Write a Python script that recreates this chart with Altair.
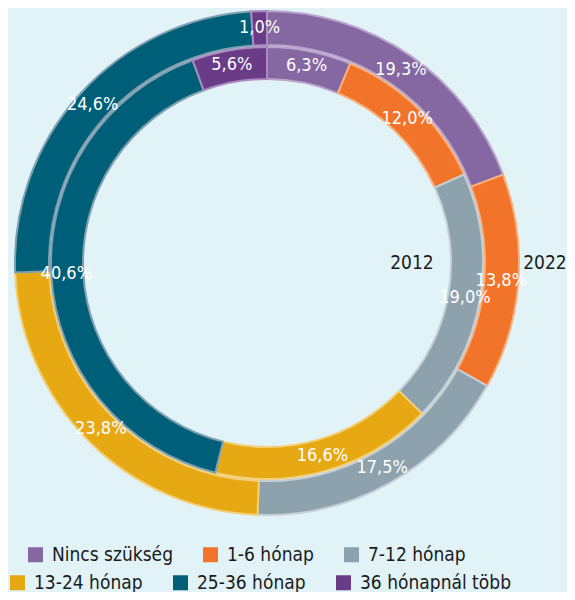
import altair as alt
import pandas as pd

categories = ["Nincs szükség", "1-6 hónap", "7-12 hónap", "13-24 hónap", "25-36 hónap", "36 hónapnál több"]
values_2022 = [19.3, 13.8, 17.5, 23.8, 24.6, 1.0]
values_2012 = [6.3, 12.0, 19.0, 16.6, 40.6, 5.6]
fill_colors = ["#8567a1", "#f1742a", "#8ea2ae", "#e6a913", "#005f78", "#6a3b87"]
stroke_colors = ["#b9a3cc", "#f8b07f", "#c4d0d6", "#f3cf78", "#7d9fb0", "#a98bbf"]
years = ["2012", "2022"]

FONT = "DejaVu Sans Condensed, DejaVu Sans, sans-serif"
CX, CY = 259, 255


def fmt(v):
    return f"{v:.1f}".replace(".", ",") + "%"


def frame(vals):
    return pd.DataFrame({
        "cat": categories,
        "idx": list(range(len(categories))),
        "val": vals,
        "label": [fmt(v) for v in vals],
    })


df22 = frame(values_2022)
df12 = frame(values_2012)

stroke_enc = alt.Stroke("cat:N", scale=alt.Scale(domain=categories, range=stroke_colors), legend=None)
theta_enc = alt.Theta("val:Q", stack="normalize")
order_enc = alt.Order("idx:Q", sort="ascending")

legend_common = dict(
    title=None, orient="none", direction="horizontal", columns=3,
    symbolType="square", symbolSize=225, symbolStrokeWidth=0,
    labelFont=FONT, labelFontSize=19, labelColor="#1a1a1a", labelOffset=7,
    columnPadding=28, padding=0,
)

outer = alt.Chart(df22).mark_arc(strokeWidth=2).encode(
    x=alt.value(CX), y=alt.value(CY),
    theta=theta_enc,
    radius=alt.value(252), radius2=alt.value(218),
    fill=alt.Fill("cat:N", scale=alt.Scale(domain=categories, range=fill_colors),
                  legend=alt.Legend(values=categories[:3], legendX=18, legendY=537, **legend_common)),
    stroke=stroke_enc,
    order=order_enc,
)

outer_text = alt.Chart(df22).mark_text(font=FONT, fontSize=18, color="white", align="center", baseline="middle").encode(
    x=alt.value(CX), y=alt.value(CY),
    theta=theta_enc,
    radius=alt.value(235),
    text="label:N",
    order=order_enc,
)

rev_cats = categories[::-1]
rev_cols = fill_colors[::-1]
inner = alt.Chart(df12).mark_arc(strokeWidth=2).encode(
    x=alt.value(CX), y=alt.value(CY),
    theta=theta_enc,
    radius=alt.value(216), radius2=alt.value(184),
    color=alt.Color("cat:N", scale=alt.Scale(domain=rev_cats, range=rev_cols),
                    legend=alt.Legend(values=categories[3:], legendX=0, legendY=565, **legend_common)),
    stroke=stroke_enc,
    order=order_enc,
)

inner_text = alt.Chart(df12).mark_text(font=FONT, fontSize=18, color="white", align="center", baseline="middle").encode(
    x=alt.value(CX), y=alt.value(CY),
    theta=theta_enc,
    radius=alt.value(201),
    text="label:N",
    order=order_enc,
)

year_in = alt.Chart(pd.DataFrame({"t": [years[0]]})).mark_text(
    font=FONT, fontSize=19, color="#1a1a1a", align="center", baseline="middle"
).encode(x=alt.value(CX), y=alt.value(CY), theta=alt.value(1.5708), radius=alt.value(145), text="t:N")

year_out = alt.Chart(pd.DataFrame({"t": [years[1]]})).mark_text(
    font=FONT, fontSize=19, color="#1a1a1a", align="center", baseline="middle"
).encode(x=alt.value(CX), y=alt.value(CY), theta=alt.value(1.5708), radius=alt.value(278), text="t:N")

chart = alt.layer(outer, inner, outer_text, inner_text, year_in, year_out).properties(
    width=559, height=584, padding=0, autosize=alt.AutoSizeParams(type="none"),
    background="#e1f3f7",
).configure_view(stroke=None)

chart.save("out.html", embed_options={"renderer": "svg", "actions": False})
